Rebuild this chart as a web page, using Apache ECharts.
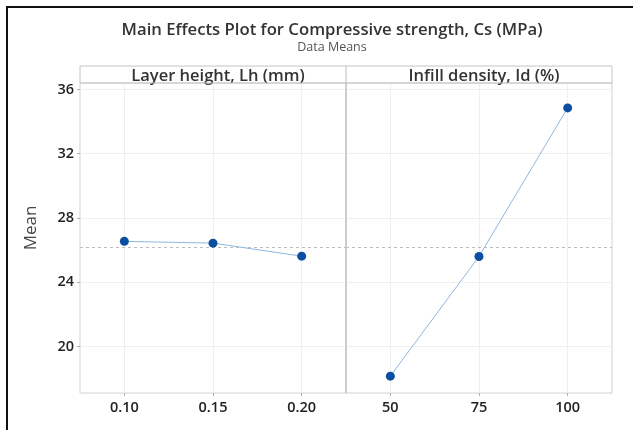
<!DOCTYPE html>
<html>
<head>
<meta charset="utf-8">
<script src="https://cdn.jsdelivr.net/npm/echarts@6/dist/echarts.min.js"></script>
<style>
  html, body { margin: 0; padding: 0; background: #fff; }
  #chart { width: 637px; height: 430px; }
</style>
</head>
<body>
<div id="chart"></div>
<script>
  // data
  const layerLevels = ['0.10', '0.15', '0.20']
  const layerMeans = [26.54, 26.43, 25.62]
  const infillLevels = ['50', '75', '100']
  const infillMeans = [18.15, 25.60, 34.85]
  const yTicks = [20, 24, 28, 32, 36]

  const allMeans = layerMeans.concat(infillMeans)
  const grandMean = allMeans.reduce((a, b) => a + b, 0) / allMeans.length

  const font = 'Open Sans'
  const frameColor = '#d2d2d2'
  const gridColor = '#efefef'

  let el = document.getElementById('chart')
  let myChart = echarts.init(el)

  function xAxis(idx, cats) {
    return {
      type: 'category',
      gridIndex: idx,
      data: cats,
      boundaryGap: true,
      axisLine: { show: false },
      axisTick: { show: true, alignWithLabel: true, length: 3, lineStyle: { color: '#b0b0b0' } },
      axisLabel: { color: '#222', fontFamily: font, fontSize: 14.5, fontWeight: 600, margin: 7 },
      splitLine: { show: true, alignWithLabel: true, lineStyle: { color: gridColor, width: 1 } }
    }
  }

  function yAxis(idx, showLabels) {
    return {
      type: 'value',
      gridIndex: idx,
      min: 17.1,
      max: 36.4,
      axisLine: { show: false },
      axisTick: { show: showLabels, length: 3, customValues: yTicks, lineStyle: { color: '#b0b0b0' } },
      axisLabel: { show: showLabels, customValues: yTicks, color: '#222', fontFamily: font, fontSize: 14.5, fontWeight: 600, margin: 6 },
      splitLine: { show: true, lineStyle: { color: gridColor, width: 1 } },
      name: showLabels ? 'Mean' : '',
      nameLocation: 'middle',
      nameGap: 40,
      nameTextStyle: { color: '#444', fontFamily: font, fontSize: 17, padding: [0, 0, 0, 20] }
    }
  }

  function series(idx, values) {
    return {
      type: 'line',
      xAxisIndex: idx,
      yAxisIndex: idx,
      data: values,
      symbol: 'circle',
      symbolSize: 9,
      itemStyle: { color: '#0a4fa0' },
      lineStyle: { color: '#8fb6e0', width: 1 },
      z: 5,
      markLine: {
        silent: true,
        symbol: 'none',
        label: { show: false },
        lineStyle: { color: '#bdbdbd', type: [3, 3], width: 1 },
        data: [{ yAxis: grandMean }]
      }
    }
  }

  let options = {
    animation: false,
    title: [
      {
        text: 'Main Effects Plot for Compressive strength, Cs (MPa)',
        subtext: 'Data Means',
        left: 327,
        textAlign: 'center',
        top: 17,
        itemGap: 2,
        textStyle: { color: '#333', fontFamily: font, fontSize: 16.7, fontWeight: 600 },
        subtextStyle: { color: '#555', fontFamily: font, fontSize: 12.5 }
      },
      {
        text: 'Layer height, Lh (mm)',
        left: 213,
        textAlign: 'center',
        top: 63,
        textStyle: { color: '#333', fontFamily: font, fontSize: 16.5, fontWeight: 600 }
      },
      {
        text: 'Infill density, Id (%)',
        left: 479,
        textAlign: 'center',
        top: 63,
        textStyle: { color: '#333', fontFamily: font, fontSize: 16.5, fontWeight: 600 }
      }
    ],
    grid: [
      { left: 80, right: 291, top: 83, bottom: 37, show: true, borderColor: frameColor, borderWidth: 1 },
      { left: 346, right: 25, top: 83, bottom: 37, show: true, borderColor: frameColor, borderWidth: 1 }
    ],
    xAxis: [xAxis(0, layerLevels), xAxis(1, infillLevels)],
    yAxis: [yAxis(0, true), yAxis(1, false)],
    series: [series(0, layerMeans), series(1, infillMeans)],
    graphic: [
      // header strip above the panels
      {
        type: 'rect',
        shape: { x: 80, y: 66, width: 532, height: 17 },
        style: { fill: 'none', stroke: '#c4c4c4', lineWidth: 1 },
        z: 10
      },
      {
        type: 'line',
        shape: { x1: 346, y1: 66, x2: 346, y2: 393 },
        style: { stroke: '#bdbdbd', lineWidth: 1 },
        z: 10
      },
      // outer frame of the screenshot
      {
        type: 'polyline',
        shape: { points: [[7, 430], [7, 7], [633, 7]] },
        style: { fill: 'none', stroke: '#111', lineWidth: 2 },
        z: 10
      }
    ]
  }

  myChart.setOption(options)
</script>
</body>
</html>
